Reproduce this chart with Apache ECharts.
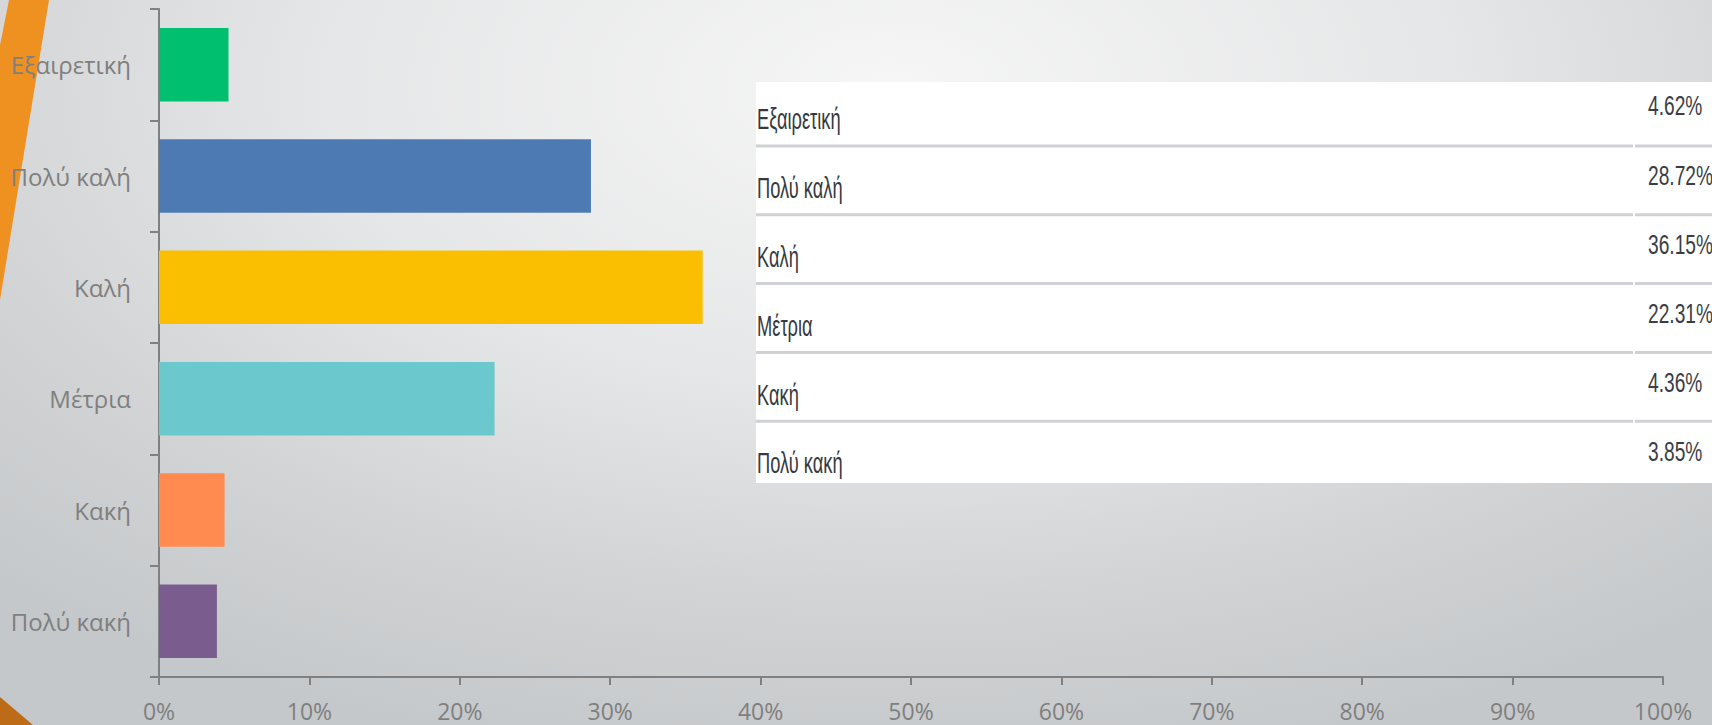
<!DOCTYPE html>
<html>
<head>
<meta charset="utf-8">
<title>Αξιολόγηση</title>
<script src="https://cdn.jsdelivr.net/npm/echarts@6/dist/echarts.min.js"></script>
<style>
  html, body { margin: 0; padding: 0; }
  body {
    width: 1712px; height: 725px; overflow: hidden;
    background: radial-gradient(ellipse 75% 95% at 52% 12%, #f6f6f6 0%, #e5e6e7 45%, #d1d3d5 75%, #c5c8ca 100%);
  }
  #chart { width: 1712px; height: 725px; }
</style>
</head>
<body>
<div id="chart"></div>
<script>
// κατηγορίες και ποσοστά (%)
const categories = ['Εξαιρετική', 'Πολύ καλή', 'Καλή', 'Μέτρια', 'Κακή', 'Πολύ κακή'];
const percents = [4.62, 28.72, 36.15, 22.31, 4.36, 3.85];
const barColors = ['#00bf6f', '#4e7ab4', '#f9bf00', '#6bc8cd', '#ff8b50', '#7b5c8e'];

const axisGray = '#808080';
const labelGray = '#7f7f7f';

// πίνακας δεξιά (λευκό πλαίσιο με γραμμές)
const tableLeft = 756, tableTop = 82, tableWidth = 956, tableHeight = 401;
const rowStep = 68.8;
const splitX = 1633;
function buildTable() {
  let els = [];
  els.push({
    type: 'rect', shape: { x: tableLeft, y: tableTop, width: tableWidth, height: tableHeight },
    style: { fill: '#ffffff' }, silent: true
  });
  categories.forEach((name, i) => {
    if (i > 0) {
      let ly = 146 + (i - 1) * rowStep;
      els.push({ type: 'rect', shape: { x: tableLeft, y: ly - 1.5, width: splitX - tableLeft, height: 3 },
        style: { fill: '#cfd1d4' }, silent: true });
      els.push({ type: 'rect', shape: { x: splitX + 2, y: ly - 1.5, width: 1712 - splitX - 2, height: 3 },
        style: { fill: '#cfd1d4' }, silent: true });
    }
    els.push({
      type: 'text', x: 757, y: 129 + i * rowStep - 0.33 * 30, scaleX: 0.61, silent: true,
      style: { text: name, fill: '#363a40', fontSize: 30, fontFamily: 'Liberation Sans, Arial',
        align: 'left', verticalAlign: 'middle' }
    });
    els.push({
      type: 'text', x: 1648, y: 115 + i * 69.2 - 0.33 * 27, scaleX: 0.71, silent: true,
      style: { text: percents[i].toFixed(2) + '%', fill: '#3a3e44', fontSize: 27,
        fontFamily: 'Liberation Sans, Arial', align: 'left', verticalAlign: 'middle' }
    });
  });
  return els;
}

let myChart = echarts.init(document.getElementById('chart'), null, { renderer: 'svg' });
myChart.setOption({
  animation: false,
  color: barColors,
  grid: { left: 159, right: 49, top: 9, bottom: 48, containLabel: false },
  xAxis: {
    type: 'value', min: 0, max: 100, interval: 10,
    axisLine: { show: true, lineStyle: { color: axisGray, width: 2 } },
    axisTick: { show: true, length: 8, lineStyle: { color: axisGray, width: 2 } },
    splitLine: { show: false },
    axisLabel: { formatter: '{value}%', color: labelGray, fontSize: 23, fontFamily: 'Open Sans', margin: 22 }
  },
  yAxis: {
    type: 'category', data: categories, inverse: true,
    axisLine: { show: true, lineStyle: { color: axisGray, width: 2 } },
    axisTick: { show: true, length: 9, lineStyle: { color: axisGray, width: 2 } },
    axisLabel: { color: labelGray, fontSize: 24, fontFamily: 'Open Sans', margin: 28 }
  },
  series: [{
    type: 'bar', colorBy: 'data', barCategoryGap: '34%', silent: true,
    data: percents
  }],
  graphic: [
    // πορτοκαλί διακοσμητικά πάνω/κάτω αριστερά
    { type: 'polygon', silent: true, shape: { points: [[9, 0], [49, 0], [0, 300], [0, 45]] },
      style: { fill: '#ee9121' } },
    { type: 'polygon', silent: true, shape: { points: [[0, 697], [33, 725], [0, 725]] },
      style: { fill: '#bd6b17' } }
  ].concat(buildTable())
});
</script>
</body>
</html>
